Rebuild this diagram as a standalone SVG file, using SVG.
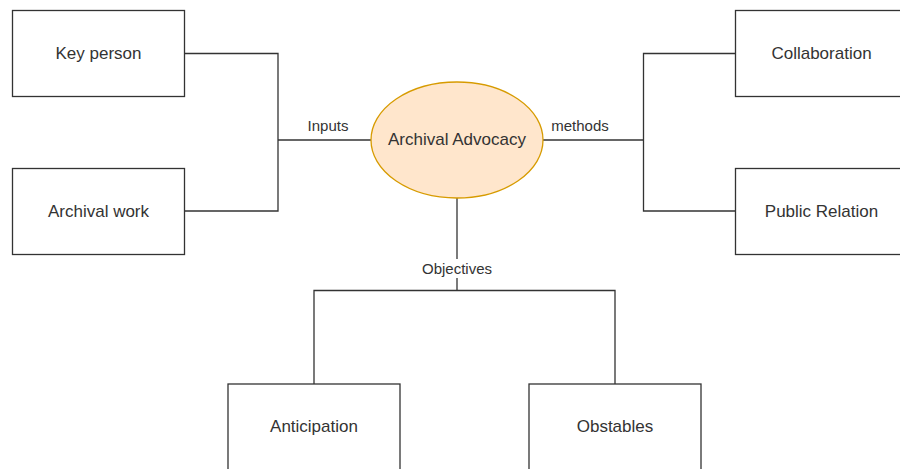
<svg xmlns="http://www.w3.org/2000/svg" width="900" height="469" viewBox="0 0 900 469">
<style>
.box{fill:#ffffff;stroke:#333333;stroke-width:1.3}
.lbl{font-family:"Liberation Sans",Arial,sans-serif;font-size:17px;fill:#333333;text-anchor:middle}
.elbl{font-family:"Liberation Sans",Arial,sans-serif;font-size:15px;fill:#333333;text-anchor:middle}
.conn{fill:none;stroke:#333333;stroke-width:1.3}
</style>
<rect width="900" height="469" fill="#ffffff"/>
<g id="connectors">
<path class="conn" d="M185,53.5 H278 V211 H185"/>
<path class="conn" d="M278,140 H371"/>
<path class="conn" d="M543,140 H643.5"/>
<path class="conn" d="M735,53.5 H643.5 V211 H735"/>
<path class="conn" d="M457,198 V290.5"/>
<path class="conn" d="M314,384 V290.5 H615 V384"/>
<rect x="418" y="259" width="78" height="19" fill="#ffffff"/>
<text class="elbl" x="328" y="130.5">Inputs</text>
<text class="elbl" x="580" y="130.5">methods</text>
<text class="elbl" x="457" y="274">Objectives</text>
</g>
<g id="center">
<ellipse cx="457" cy="140" rx="86" ry="58" fill="#ffe6cc" stroke="#d79b00" stroke-width="1.3"/>
<text class="lbl" x="457" y="145">Archival Advocacy</text>
</g>
<g id="keyperson">
<rect class="box" x="12.5" y="10.5" width="172" height="86"/>
<text class="lbl" x="98.5" y="59">Key person</text>
</g>
<g id="archivalwork">
<rect class="box" x="12.5" y="168.5" width="172" height="86"/>
<text class="lbl" x="98.5" y="217">Archival work</text>
</g>
<g id="collaboration">
<rect class="box" x="735.5" y="10.5" width="172" height="86"/>
<text class="lbl" x="821.5" y="59">Collaboration</text>
</g>
<g id="publicrelation">
<rect class="box" x="735.5" y="168.5" width="172" height="86"/>
<text class="lbl" x="821.5" y="217">Public Relation</text>
</g>
<g id="anticipation">
<rect class="box" x="228" y="384" width="172" height="86"/>
<text class="lbl" x="314" y="432">Anticipation</text>
</g>
<g id="obstables">
<rect class="box" x="529" y="384" width="172" height="86"/>
<text class="lbl" x="615" y="432">Obstables</text>
</g>
</svg>
